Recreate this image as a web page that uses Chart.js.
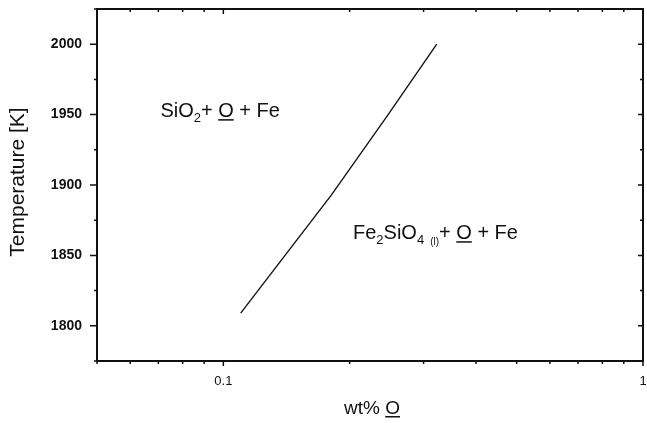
<!DOCTYPE html>
<html>
<head>
<meta charset="utf-8">
<script src="https://cdn.jsdelivr.net/npm/chart.js@4/dist/chart.umd.min.js"></script>
<style>
html,body{margin:0;padding:0;background:#fff;}
#wrap{width:647px;height:423px;}
</style>
</head>
<body>
<div id="wrap"><canvas id="c" width="647" height="423"></canvas></div>
<script>
// ---- data ----
const wtO = [0.110, 0.181, 0.247, 0.3225];
const temperature = [1809, 1893, 1950, 2000];
const xTickValues = [0.05,0.06,0.07,0.08,0.09,0.1,0.2,0.3,0.4,0.5,0.6,0.7,0.8,0.9,1];
const xTickLabels = [0.1, 1];
const yTickValues = [1775,1800,1825,1850,1875,1900,1925,1950,1975,2000,2025];
const yTickLabels = [1800,1850,1900,1950,2000];
const xTitle = 'wt% ';
const xTitleUnder = 'O';
const yTitle = 'Temperature [K]';

const FONT = '"Liberation Sans", Arial, Helvetica, sans-serif';
const INK = '#111';

function isLabeled(list, v){ return list.some(l => Math.abs(l - v) < 1e-9 * Math.max(1, Math.abs(l))); }

function drawRich(ctx, x, y, segs, size){
  let cx = x;
  segs.forEach(s => {
    const fs = s.size || size;
    ctx.font = fs + 'px ' + FONT;
    const dy = s.dy || 0;
    ctx.fillText(s.t, cx, y + dy);
    const w = ctx.measureText(s.t).width;
    if (s.u) ctx.fillRect(cx, y + 2, w, 1.5);
    cx += w + (s.gap || 0);
  });
  return cx - x;
}

function zeroPad(s){ s.paddingTop = 0; s.paddingBottom = 0; s.paddingLeft = 0; s.paddingRight = 0; }

const framePlugin = {
  id: 'frame',
  afterDraw(chart){
    const {ctx, chartArea: a, scales: {x, y}} = chart;
    ctx.save();
    ctx.strokeStyle = INK;
    ctx.lineWidth = 2;
    ctx.strokeRect(a.left, a.top, a.right - a.left, a.bottom - a.top);
    ctx.lineWidth = 1.5;
    ctx.beginPath();
    x.ticks.forEach(t => {
      const px = x.getPixelForValue(t.value);
      const maj = isLabeled(xTickLabels, t.value);
      const L = maj ? 5 : 3;
      ctx.moveTo(px, a.bottom); ctx.lineTo(px, a.bottom + L);
      ctx.moveTo(px, a.top); ctx.lineTo(px, a.top + L);
    });
    y.ticks.forEach(t => {
      const py = y.getPixelForValue(t.value);
      const maj = isLabeled(yTickLabels, t.value);
      ctx.moveTo(a.left, py); ctx.lineTo(a.left - (maj ? 7 : 3), py);
      ctx.moveTo(a.right, py); ctx.lineTo(a.right - (maj ? 5 : 3), py);
    });
    ctx.stroke();

    // annotations
    ctx.fillStyle = INK;
    ctx.textBaseline = 'alphabetic';
    ctx.textAlign = 'left';
    drawRich(ctx, x.getPixelForValue(0.0708), y.getPixelForValue(1948.2), [
      {t: 'SiO'}, {t: '2', size: 13, dy: 5}, {t: '+ '}, {t: 'O', u: true}, {t: ' + Fe'}
    ], 20);
    drawRich(ctx, x.getPixelForValue(0.2037), y.getPixelForValue(1861.5), [
      {t: 'Fe'}, {t: '2', size: 13, dy: 5}, {t: 'SiO'}, {t: '4', size: 13, dy: 5, gap: 6}, {t: '(l)', size: 10, dy: 6}, {t: '+ '}, {t: 'O', u: true}, {t: ' + Fe'}
    ], 20);

    // axis titles
    ctx.font = '19px ' + FONT;
    const w1 = ctx.measureText(xTitle).width;
    const w2 = ctx.measureText(xTitleUnder).width;
    const cx = 372 - (w1 + w2) / 2;
    drawRich(ctx, cx, 414, [{t: xTitle}, {t: xTitleUnder, u: true}], 19);

    ctx.save();
    ctx.translate(24, 182);
    ctx.rotate(-Math.PI / 2);
    ctx.textAlign = 'center';
    ctx.font = '21px ' + FONT;
    ctx.fillText(yTitle, 0, 0);
    ctx.restore();
    ctx.restore();
  }
};

new Chart(document.getElementById('c'), {
  type: 'line',
  data: {
    datasets: [{
      data: wtO.map((v, i) => ({x: v, y: temperature[i]})),
      borderColor: '#151515',
      borderWidth: 1.4,
      pointRadius: 0,
      tension: 0,
      fill: false
    }]
  },
  options: {
    responsive: false,
    devicePixelRatio: 1,
    animation: false,
    layout: {padding: {top: 9, right: 4, left: 0, bottom: 0}},
    plugins: {legend: {display: false}, tooltip: {enabled: false}},
    scales: {
      x: {
        type: 'logarithmic',
        min: 0.05,
        max: 1,
        afterBuildTicks(s){ s.ticks = xTickValues.map(v => ({value: v})); },
        afterFit(s){ s.height = 62; zeroPad(s); },
        grid: {display: false, drawTicks: false},
        border: {display: false},
        ticks: {
          autoSkip: false,
          maxRotation: 0,
          padding: 13,
          color: INK,
          font: {family: FONT, size: 13},
          callback(v){ return isLabeled(xTickLabels, v) ? String(v) : ''; }
        }
      },
      y: {
        type: 'linear',
        min: 1775,
        max: 2025,
        afterBuildTicks(s){ s.ticks = yTickValues.map(v => ({value: v})); },
        afterFit(s){ s.width = 97; zeroPad(s); },
        grid: {display: false, drawTicks: false},
        border: {display: false},
        ticks: {
          autoSkip: false,
          padding: 15,
          color: INK,
          font: {family: FONT, size: 14, weight: 'bold'},
          callback(v){ return isLabeled(yTickLabels, v) ? String(v) : ''; }
        }
      }
    }
  },
  plugins: [framePlugin]
});
</script>
</body>
</html>
